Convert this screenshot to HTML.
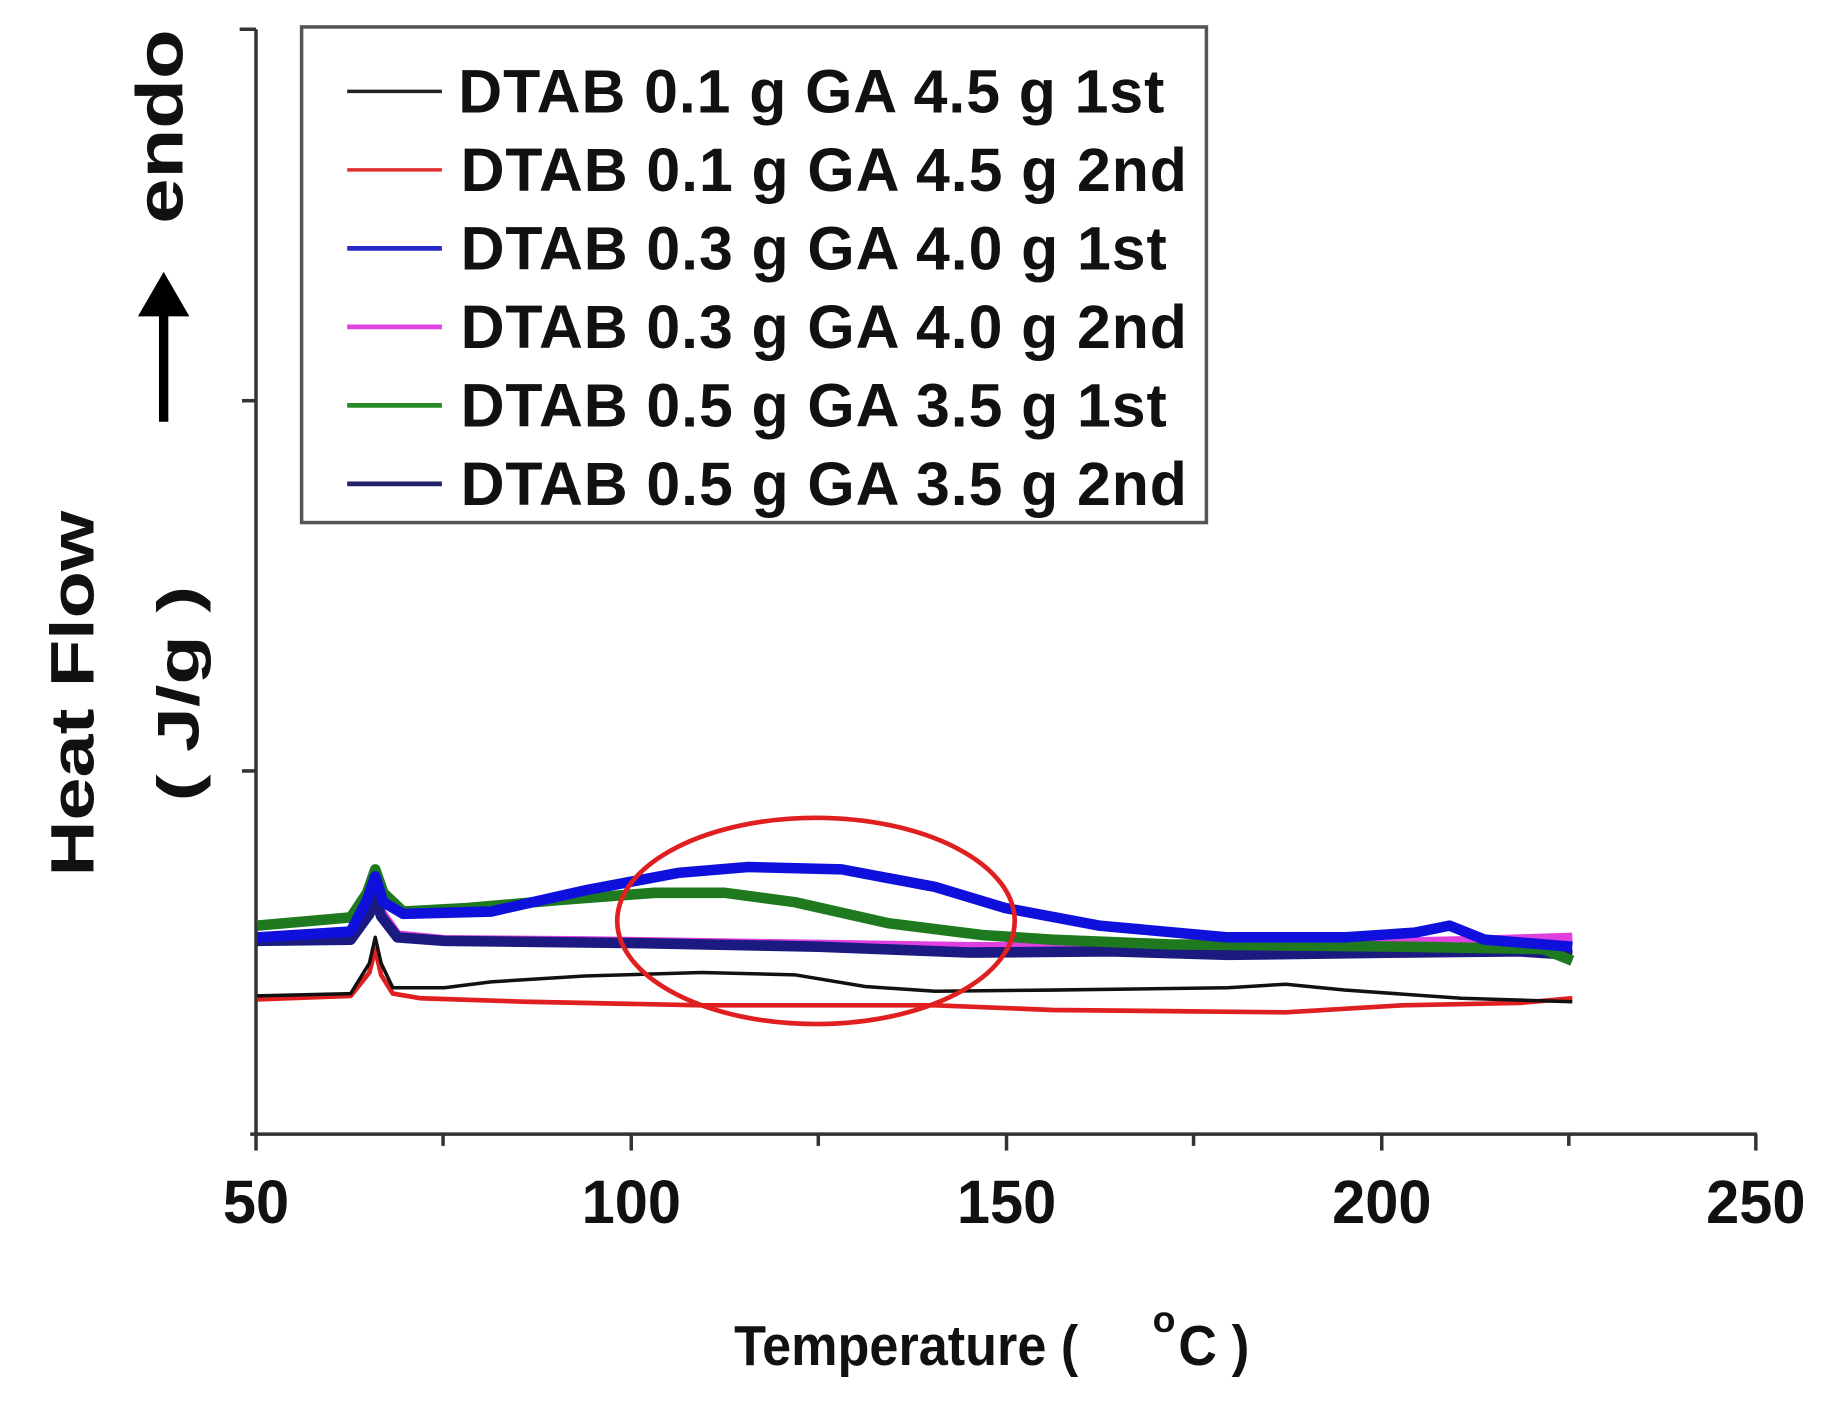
<!DOCTYPE html>
<html><head><meta charset="utf-8"><style>
html,body{margin:0;padding:0;background:#fff;}
svg{display:block;}
text{font-family:"Liberation Sans",Arial,sans-serif;font-weight:bold;fill:#111;}
</style></head><body>
<svg width="1833" height="1406" viewBox="0 0 1568 1200" preserveAspectRatio="none" xmlns="http://www.w3.org/2000/svg">
<rect width="1568" height="1200" fill="#fff"/>
<g stroke="#333" stroke-width="3" fill="none">
<line x1="219" y1="25" x2="219" y2="968"/>
<line x1="214" y1="968" x2="1503" y2="968"/>
<line x1="205" y1="25" x2="219" y2="25"/>
<line x1="207" y1="342" x2="219" y2="342"/>
<line x1="207" y1="658" x2="219" y2="658"/>
<line x1="219" y1="968" x2="219" y2="982"/>
<line x1="379" y1="968" x2="379" y2="978"/>
<line x1="540" y1="968" x2="540" y2="982"/>
<line x1="700" y1="968" x2="700" y2="978"/>
<line x1="861" y1="968" x2="861" y2="982"/>
<line x1="1021" y1="968" x2="1021" y2="978"/>
<line x1="1182" y1="968" x2="1182" y2="982"/>
<line x1="1342" y1="968" x2="1342" y2="978"/>
<line x1="1502" y1="968" x2="1502" y2="982"/>
</g>
<g font-size="52" text-anchor="middle">
<text transform="translate(219,1044) scale(0.98,1)">50</text>
<text transform="translate(540,1044) scale(0.98,1)">100</text>
<text transform="translate(861,1044) scale(0.98,1)">150</text>
<text transform="translate(1182,1044) scale(0.98,1)">200</text>
<text transform="translate(1502,1044) scale(0.98,1)">250</text>
</g>
<text transform="translate(628,1165) scale(0.93,1)" font-size="48">Temperature (</text>
<text x="986" y="1137" font-size="32">o</text>
<text transform="translate(1008,1165) scale(0.95,1)" font-size="48">C )</text>
<text transform="translate(80,592) rotate(-90)" font-size="52" text-anchor="middle" textLength="312" lengthAdjust="spacingAndGlyphs">Heat  Flow</text>
<text transform="translate(170,592) rotate(-90)" font-size="50" text-anchor="middle" textLength="184" lengthAdjust="spacingAndGlyphs">( J/g )</text>
<text transform="translate(156,108) rotate(-90)" font-size="56" text-anchor="middle" textLength="166" lengthAdjust="spacingAndGlyphs">endo</text>
<line x1="140" y1="360" x2="140" y2="260" stroke="#000" stroke-width="8"/>
<polygon points="140,232 118,270 162,270" fill="#000"/>
<rect x="258" y="23" width="774" height="423" fill="#fff" stroke="#555" stroke-width="3"/>
<g stroke-width="3">
<line x1="297" y1="78" x2="378" y2="78" stroke="#222"/>
<line x1="297" y1="145" x2="378" y2="145" stroke="#e03030"/>
<line x1="297" y1="212" x2="378" y2="212" stroke="#2a2acc" stroke-width="4"/>
<line x1="297" y1="279" x2="378" y2="279" stroke="#e040e0" stroke-width="4"/>
<line x1="297" y1="346" x2="378" y2="346" stroke="#2a8a2a" stroke-width="4"/>
<line x1="297" y1="413" x2="378" y2="413" stroke="#22226a" stroke-width="4"/>
</g>
<g font-size="52" letter-spacing="0.8">
<text x="392" y="96">DTAB 0.1 g GA 4.5 g 1st</text>
<text x="394" y="163">DTAB 0.1 g GA 4.5 g 2nd</text>
<text x="394" y="230">DTAB 0.3 g GA 4.0 g 1st</text>
<text x="394" y="297">DTAB 0.3 g GA 4.0 g 2nd</text>
<text x="394" y="364">DTAB 0.5 g GA 3.5 g 1st</text>
<text x="394" y="431">DTAB 0.5 g GA 3.5 g 2nd</text>
</g>
<g fill="none" stroke-linejoin="round">
<path d="M220,853 L300,850 L316,830 L321,810 L326,832 L336,848 L360,852 L450,855 L600,858 L800,858 L900,862 L1100,864 L1200,858 L1300,856 L1345,852" stroke="#e02020" stroke-width="4"/>
<path d="M220,850 L300,848 L316,822 L321,800 L326,822 L336,843 L380,843 L420,838 L500,833 L600,830 L680,832 L740,842 L800,846 L900,845 L1050,843 L1100,840 L1150,845 L1250,852 L1345,855" stroke="#111" stroke-width="3"/>
<path d="M220,802 L300,800 L316,775 L321,760 L326,778 L340,798 L380,802 L500,803 L700,806 L830,808 L900,808 L1100,806 L1250,803 L1345,800" stroke="#e040e0" stroke-width="8"/>
<path d="M220,803 L300,802 L316,780 L321,765 L326,782 L340,800 L380,803 L550,805 L700,808 L830,813 L950,812 L1050,815 L1200,813 L1300,812 L1345,815" stroke="#1a1a80" stroke-width="9"/>
<path d="M220,790 L300,783 L314,762 L321,742 L328,762 L345,778 L400,775 L480,768 L560,762 L620,762 L680,770 L760,788 L840,798 L900,802 L1000,806 L1200,808 L1320,810 L1345,820" stroke="#1f7a1f" stroke-width="9"/>
<path d="M220,800 L300,795 L314,768 L321,748 L328,770 L345,780 L420,778 L500,760 L580,745 L640,740 L720,742 L800,757 L860,775 L940,790 L1050,800 L1150,800 L1210,796 L1240,790 L1270,802 L1345,808" stroke="#1010dd" stroke-width="9"/>
</g>
<ellipse cx="698" cy="786" rx="170" ry="88" fill="none" stroke="#e02020" stroke-width="4"/>
</svg>
</body></html>
